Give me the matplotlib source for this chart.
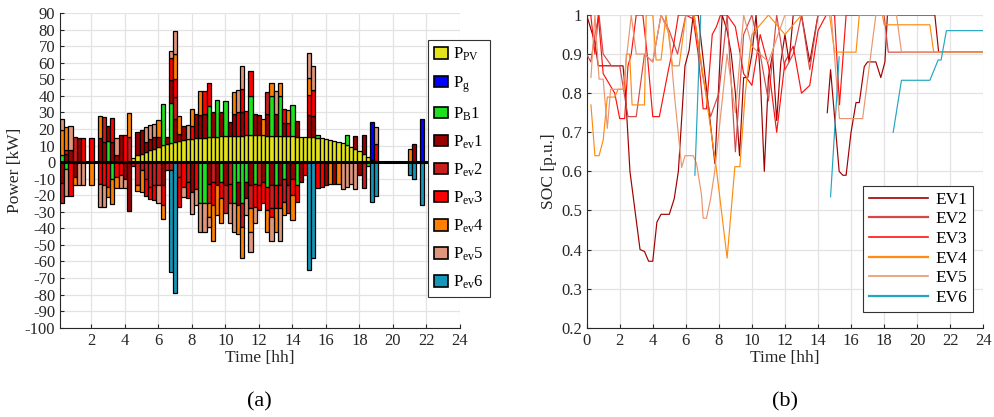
import numpy as np
import matplotlib
matplotlib.use('Agg')
import matplotlib.pyplot as plt
from matplotlib.patches import Patch
from matplotlib.lines import Line2D

plt.rcParams['font.family'] = ['Liberation Serif', 'DejaVu Serif']
plt.rcParams['mathtext.fontset'] = 'custom'
plt.rcParams['mathtext.rm'] = 'Liberation Serif'
plt.rcParams['mathtext.it'] = 'Liberation Serif:italic'
plt.rcParams['axes.unicode_minus'] = False

# ---- panel (a): power balance, 15 min steps (bar k at t = 0.25 k) ----
t_bar = np.arange(1, 97) * 0.25

p_pv = [0] * 12 + \
    [0, 0, 0, 0, 0, 2.6, 4.0, 5.1, 6.1, 7.1, 8.1, 9.3] + \
    [10.2, 11.0, 11.7, 12.3, 12.8, 13.3, 13.7, 14.0, 14.3, 14.6, 14.8, 15.0] + \
    [15.2, 15.4, 15.5, 15.7, 15.8, 15.9, 16.0, 16.0, 16.1, 16.1, 16.1, 16.1] + \
    [16.1, 16.0, 16.0, 15.9, 15.8, 15.7, 15.6, 15.5, 15.4, 15.3, 15.2, 15.1] + \
    [14.9, 14.6, 14.3, 13.9, 13.4, 12.8, 12.2, 11.4, 10.4, 9.2, 8.0, 6.6] + \
    [4.9, 3.2, 1.4, 0.4, 0, 0, 0, 0, 0, 0, 0, 0] + \
    [0] * 12

p_grid = [0] * 72 + \
    [0, 0, 22.8, 0, 0, 0, 0, 0, 0, 0, 0, 0] + \
    [0, 0, 25.8, 0, 0, 0, 0, 0, 0, 0, 0, 0]

p_bat = [4.4, -4.4, 0, 0, 0, 0, 0, 0, 0, 0, 0, 12.5] + \
    [-10, 0, 0, 0, 0, 0, 0, 0, 0, 0, 0, 0] + \
    [25.1, 0, 24, 0, 0, 0, 0, 0, 0, -25, -25, 19] + \
    [0, 22, -12, 21.3, 0, -25, -12, -25, -12, 24, -13, 0] + \
    [0, -15, 23.7, -14, 24, -10, 0, 19.2, -14, 0, 0, 0] + \
    [0, 1.5, 0, 0, 0, 0, 0, 0, 5.7, 0, 0, 0] + \
    [0, -2.4, 0, 0, 0, 0, 0, 0, 0, 0, 0, 0] + \
    [0] * 12

p_ev1 = [-12.7, 4.7, 7.5, -9, 14.7, 0, 0, 0, 0, 14.7, 12, 9.1] + \
    [12, 4, 16.1, -10, -29.4, 0, 14.1, 14.1, 6, 7, 7, 6] + \
    [-14, 4.1, 14, 14, 4, 8.3, 0, -18, 14.9, 14, 14, -13] + \
    [14.8, -14, 14.5, -14, 8.2, 13, -14, 14, -10, -14, 13.1, 12.1] + \
    [-12, 13, -14, 13, -14, 8, -14, -10, 9.3, -12, 0, 13.1] + \
    [13.1, 0, 0, -14, 0, -13, 0, 0, 0, 0, 8, -8] + \
    [11.2, 0, 0, 0, 0, 0, 0, 0, 0, 0, 0, 0] + \
    [10.7, 0, 0, 0, 0, 0, 0, 0, 0, 0, 0, 0]

p_ev2 = [-12.1, 0, 0, 15, 0, 0, 0, 0, 0, 0, 15.2, 0] + \
    [0, 0, 0, 0, 15, -2.4, -14, -5, -10, -15, -14, -14] + \
    [0, -5, -5, 13, -9, 0, -12, 0, 0, 0, 0, -12] + \
    [-12, 0, 0, -17, -13, 0, 0, -14, 0, -14, 0, -14] + \
    [0, 13.3, -14, 0, 0, -14, -17, 0, 0, 0, 0, 0] + \
    [0] * 12 + \
    [-15.7, 0, 0, 0, 0, 0, 0, 0, 0, 0, 0, 0] + \
    [0] * 12

p_ev3 = [0, 2.3, -20.6, 0, 0, 14.7, 0, 14.7, 0, -13.5, -14, -15] + \
    [14.6, -9, -8, 16.1, 0, 0, 0, 0, -10.6, -7.2, -9.2, 0] + \
    [-12, 0, 13.3, 11, -18.2, -15, -10, 8, -16, 0, 13.9, 14] + \
    [-14, 0, -10, 0, -12, 0, 14, 14, 14.9, 14.7, -14, -15] + \
    [-13, -14, -5, -14, -14, 8.3, 8, -10, -10, 0, -8, 12.1] + \
    [15.5, -15.5, -15, 0, 0, 0, 0, 0, 0, 0, 0, 0] + \
    [0, 0, 0, 10.3, 0, 0, 0, 0, 0, 0, 0, 0] + \
    [0] * 12

p_ev4 = [14.8, 14.2, 0, -4.7, 0, 0, 0, -13.7, 0, 13.1, 0, -6] + \
    [-15.2, -6.5, 0, 0, 14.8, 0, -3.7, -13.1, 0, 0, 0, 9.9] + \
    [-8.3, 0, 0, 15, 10.8, 0, 0, 9.9, 0, 14.1, 0, -8] + \
    [-21.4, -18, -14.5, 0, 0, 13.4, -17.5, -18.9, 0, -14, 0, 0] + \
    [10.1, -13.3, 8.1, -14.3, 8, -8, 7.7, -14.7, 0, 0, 0, 10.7] + \
    [0, 0, 0, 0, -13, 0, -13, 0, 0, 0, 0, 0] + \
    [0, 0, 0, 0, 0, 0, 0, 0, 0, 0, 0, 8.1] + \
    [0] * 12

p_ev5 = [6.6, -16.2, 14.1, 0, -13.7, -13.7, 0, 0, 0, -13.7, -13.2, 0] + \
    [0, 10.7, -7.5, -5.5, 0, 0, 0, 0, 9.1, 8.1, 8.1, -10.8] + \
    [0, 0, 4, 13.9, 0, -6.2, 8.5, -13.3, -10, -17.3, -17.3, -6.5] + \
    [0, 0, 0, 0, -12, -17.3, 13.3, 14, -10, -12.5, -10, 0] + \
    [0, 0, -14.4, 13.8, -19.4, 0, 0, 0, 0, 0, 0, 14.9] + \
    [14.5, 0, 0, 0, 0, 0, 0, -16, -15, -13, -16, 0] + \
    [0, 0, 0, 10.5, 0, 0, 0, 0, 0, 0, 0, 0] + \
    [0] * 12

p_ev6 = [0] * 24 + \
    [0, 0, -61.5, -79.2, 0, 0, 0, 0, 0, 0, 0, 0] + \
    [0] * 12 + \
    [0, 0, 0, 0, 0, 0, 0, 0, 0, 0, 0, -65] + \
    [-58, 0, 0, 0, 0, 0, 0, 0, 0, 0, 0, 0] + \
    [0, 0, -24.2, -20.6, 0, 0, 0, 0, 0, 0, 0, -7.7] + \
    [-10, 0, -26.2, 0, 0, 0, 0, 0, 0, 0, 0, 0]

bar_series = [p_pv, p_grid, p_bat, p_ev1, p_ev2, p_ev3, p_ev4, p_ev5, p_ev6]
bar_labels = [r'$\mathrm{P_{PV}}$', r'$\mathrm{P_{g}}$', r'$\mathrm{P_{B}}$1',
              r'$\mathrm{P_{ev}}$1', r'$\mathrm{P_{ev}}$2', r'$\mathrm{P_{ev}}$3',
              r'$\mathrm{P_{ev}}$4', r'$\mathrm{P_{ev}}$5', r'$\mathrm{P_{ev}}$6']
bar_colors = ['#e3e31c', '#0000ff', '#1ee01e', '#990000', '#c81e1e',
              '#ff0000', '#ff8000', '#e0967a', '#1497b8']

# ---- panel (b): state of charge of each EV (nan = not connected) ----
ev1_t = [0, 0.5, 0.7, 2.2, 2.35, 2.62, 3.23, 3.5, 3.75, 4.0, 4.25, 4.5, 5.0,
         5.3, 5.55, 5.95, 6.2, 6.45, 6.75, 7.76, 8.2, 8.5, 8.75, 9.0, 9.25,
         9.5, 9.75, 10.0, 10.25, 10.5, 10.75, 11.0, 11.25, 11.5, 11.75, 12.0,
         12.25, 12.5, 13.0, 13.5, 14.0, np.nan, 14.56, 14.76, 15.28, 15.5,
         15.7, 16.0, 16.3, 16.5, 16.8, 17.0, 17.5, 17.8, 18.05, 18.2, 21.07,
         21.3, 24]
ev1_soc = [1.0, 0.93, 0.87, 0.87, 0.8, 0.6, 0.4, 0.395, 0.37, 0.37, 0.47, 0.49,
           0.49, 0.53, 0.6, 0.87, 0.91, 1.0, 1.0, 0.62, 1.0, 0.96, 0.9, 0.8,
           0.64, 0.84, 0.84, 0.9, 1.0, 0.85, 0.6, 0.84, 0.9, 0.73, 0.88, 0.95,
           0.88, 1.0, 1.0, 0.88, 1.0, np.nan, 0.75, 0.86, 0.6, 0.59, 0.59,
           0.7, 0.776, 0.776, 0.868, 0.88, 0.88, 0.84, 0.88, 1.0, 1.0, 0.905,
           0.905]
ev2_t = [0, 0.25, 0.5, 0.75, 1.0, 1.5, 2.0, 2.5, 3.0, 3.5, 4.0, 4.5, 5.0, 5.5,
         6.0, 6.5, 7.0, 7.5, 8.0, 8.5, 9.0, 9.5, 10.0, 10.5, 11.0, 11.5, 12.0,
         12.5, 13.0, 13.5, 14.0, 18.0, 18.25, 24]
ev2_soc = [0.9, 0.88, 0.95, 1.0, 0.9, 0.87, 0.87, 0.74, 0.74, 0.9, 0.88, 1.0,
           0.96, 0.9, 1.0, 1.0, 0.85, 0.74, 0.8, 1.0, 0.65, 0.95, 1.0, 0.9,
           0.78, 1.0, 0.86, 0.9, 1.0, 0.86, 1.0, 1.0, 0.905, 0.905]
ev3_t = [0, 0.25, 0.5, 0.7, 1.0, 1.7, 2.0, 2.3, 2.5, 2.7, 3.0, 3.4, 3.7, 4.0,
         4.4, 4.95, 5.25, 5.55, 6.0, 6.45, 6.75, 7.05, 7.25, 7.6, 7.85, 8.1,
         8.5, 9.0, 9.5, 10.0, 10.5, 11.0, 11.5, 12.0, 12.5, 13.0, 13.5, 14.0,
         14.5, 15.0, 15.3, 15.7, 16.0, 18.0]
ev3_soc = [1.0, 1.0, 0.9, 1.0, 0.85, 0.8, 0.735, 0.735, 0.87, 0.9, 1.0, 1.0,
           0.885, 0.74, 0.74, 0.86, 0.92, 1.0, 1.0, 0.99, 0.9, 0.76, 0.76,
           0.95, 0.97, 1.0, 1.0, 0.97, 0.85, 0.82, 0.95, 0.87, 0.7, 0.88, 0.92,
           0.8, 0.82, 0.96, 1.0, 1.0, 0.77, 1.0, 1.0, 1.0]
ev4_t = [0.26, 0.5, 0.75, 1.0, 1.25, 1.7, 1.9, 2.3, 2.4, 2.6, 2.75, 3.5, 3.6,
         4.0, 4.2, 4.5, 4.8, 5.2, 5.6, 6.0, 6.5, 7.0, 7.4, 7.86, 8.5, 8.97,
         9.27, 9.6, 10.0, 11.0, 12.0, 13.0, 14.0, 14.7, 15.0, 16.3, 16.5,
         17.9, 18.0, 20.77, 21.0, 24]
ev4_soc = [0.77, 0.64, 0.64, 0.68, 0.79, 0.79, 0.81, 0.81, 0.9, 0.9, 0.77,
           0.77, 1.0, 1.0, 0.885, 0.885, 1.0, 0.87, 0.87, 1.0, 1.0, 0.86, 0.74,
           0.603, 0.378, 0.612, 0.612, 0.8, 0.95, 1.0, 0.95, 1.0, 1.0, 1.0,
           0.905, 0.905, 1.0, 1.0, 0.975, 0.975, 0.905, 0.905]
ev5_t = [0.26, 0.5, 0.75, 1.0, 1.25, 1.45, 1.7, 2.2, 2.7, 3.0, 3.5, 4.0, 4.5,
         5.0, 5.3, 5.75, 5.95, 6.45, 6.65, 6.95, 7.05, 7.25, 7.5, 7.75, 8.0,
         8.5, 9.0, 9.5, 10.0, 11.0, 12.0, 13.0, 14.0, 14.8, 15.3, 16.7, 17.5,
         18.75, 19.05, 24]
ev5_soc = [0.84, 1.0, 0.836, 0.836, 0.71, 0.81, 0.81, 0.81, 1.0, 0.9, 0.9,
           0.88, 1.0, 0.95, 0.8, 0.61, 0.64, 0.64, 0.62, 0.54, 0.48, 0.48,
           0.53, 0.6, 0.7, 0.9, 0.75, 1.0, 0.92, 0.88, 1.0, 1.0, 1.0, 1.0,
           0.735, 0.735, 1.0, 1.0, 0.905, 0.905]
ev6_t = [6.55, 6.9, np.nan, 14.76, 15.28, np.nan, 18.55, 19.05, 20.77, 21.27,
         21.45, 21.77, 24]
ev6_soc = [0.59, 1.0, np.nan, 0.535, 0.893, np.nan, 0.70, 0.833, 0.833, 0.885,
           0.885, 0.96, 0.96]

soc_series = [(ev1_t, ev1_soc), (ev2_t, ev2_soc), (ev3_t, ev3_soc),
              (ev4_t, ev4_soc), (ev5_t, ev5_soc), (ev6_t, ev6_soc)]
soc_labels = ['EV1', 'EV2', 'EV3', 'EV4', 'EV5', 'EV6']
soc_colors = ['#a00000', '#d44848', '#ff1010', '#ff8c10', '#ea9670', '#22a6c2']

tick_col = '#262626'
grid_col = '#e3e3e3'

fig = plt.figure(figsize=(9.95, 4.17), dpi=100)
ax1 = fig.add_axes([0.0603, 0.2142, 0.402, 0.7546])
ax2 = fig.add_axes([0.5896, 0.2142, 0.3986, 0.7498])

# stacked bars: positives pile up from zero, negatives pile down
pos = np.zeros(len(t_bar))
neg = np.zeros(len(t_bar))
for vals, col in zip(bar_series, bar_colors):
    v = np.asarray(vals, dtype=float)
    bottom = np.where(v >= 0, pos, neg)
    m = v != 0
    ax1.bar(t_bar[m], v[m], width=0.25, bottom=bottom[m], color=col,
            edgecolor='black', linewidth=0.9, zorder=3)
    pos = pos + np.clip(v, 0, None)
    neg = neg + np.clip(v, None, 0)
ax1.axhline(0, color='black', linewidth=2.2, zorder=4)

ax1.set_xlim(0.125, 24)
ax1.set_ylim(-100, 90)
ax1.set_xticks(np.arange(2, 25, 2))
ax1.set_yticks(np.arange(-100, 91, 10))
ax1.set_xlabel('Time [hh]', fontsize=12.5, color=tick_col, labelpad=1)
ax1.set_ylabel('Power [kW]', fontsize=12.5, color=tick_col, labelpad=1)

handles = [Patch(facecolor=c, edgecolor='black', linewidth=1.2) for c in bar_colors]
leg1 = fig.legend(handles, bar_labels, loc='upper left',
                  bbox_to_anchor=(0.430, 0.905), fontsize=12,
                  handlelength=0.8, handleheight=0.7, handletextpad=0.3,
                  labelspacing=0.64, borderpad=0.38, borderaxespad=0,
                  fancybox=False, edgecolor='#333333', framealpha=1)
leg1.get_frame().set_linewidth(0.8)

for (tt, ss), col in zip(soc_series, soc_colors):
    ax2.plot(tt, ss, color=col, linewidth=0.85, zorder=3)
ax2.set_xlim(0, 24)
ax2.set_ylim(0.2, 1.0)
ax2.set_xticks(np.arange(0, 25, 2))
ax2.set_yticks(np.round(np.arange(0.2, 1.01, 0.1), 1))
ax2.set_yticklabels(['0.2', '0.3', '0.4', '0.5', '0.6', '0.7', '0.8', '0.9', '1'])
ax2.set_xlabel('Time [hh]', fontsize=12.5, color=tick_col, labelpad=1)
ax2.set_ylabel('SOC [p.u.]', fontsize=12.5, color=tick_col, labelpad=3)

lh = [Line2D([0], [0], color=c, linewidth=1.6 if i % 2 else 1.2)
      for i, c in enumerate(soc_colors)]
leg2 = ax2.legend(lh, soc_labels, loc='lower right', bbox_to_anchor=(0.974, 0.05),
                  fontsize=12.5, handlelength=3.4, handletextpad=0.4,
                  labelspacing=0.2, borderpad=0.35, borderaxespad=0,
                  fancybox=False, edgecolor='#333333', framealpha=1)
leg2.get_frame().set_linewidth(0.8)

for ax in (ax1, ax2):
    ax.grid(True, color=grid_col, linewidth=0.9, zorder=0)
    ax.set_axisbelow(True)
    ax.spines['top'].set_visible(False)
    ax.spines['right'].set_visible(False)
    for s in ('left', 'bottom'):
        ax.spines[s].set_color(tick_col)
        ax.spines[s].set_linewidth(0.8)
    ax.tick_params(direction='in', length=3, width=0.8, colors=tick_col,
                   labelsize=12)

fig.text(0.261, 0.025, '(a)', ha='center', fontsize=16)
fig.text(0.789, 0.025, '(b)', ha='center', fontsize=16)

fig.savefig('out.png', dpi=100)
